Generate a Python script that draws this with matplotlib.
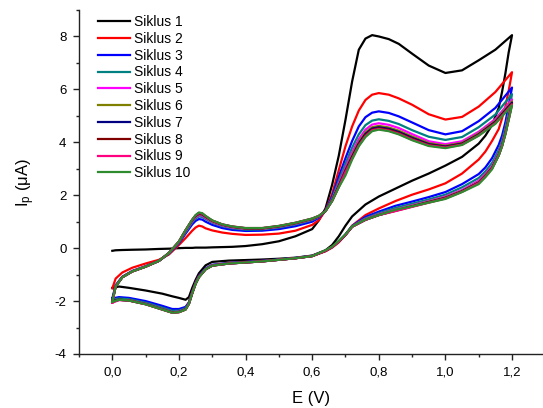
import numpy as np
import matplotlib
matplotlib.use("Agg")
import matplotlib.pyplot as plt
from matplotlib.ticker import MultipleLocator, FuncFormatter

plt.rcParams['font.family'] = ['Liberation Sans', 'DejaVu Sans']
plt.rcParams['mathtext.fontset'] = 'custom'
plt.rcParams['mathtext.rm'] = 'Liberation Sans'
plt.rcParams['mathtext.default'] = 'regular'
plt.rcParams['axes.unicode_minus'] = False

# potential grids for the anodic (forward) and cathodic (reverse) sweeps, V
E_fwd = [0.00, 0.01, 0.03, 0.06, 0.10, 0.14, 0.17, 0.20, 0.22, 0.24, 0.25, 0.26, 0.27, 0.28,
         0.30, 0.33, 0.36, 0.40, 0.45, 0.50, 0.55, 0.60, 0.62, 0.64, 0.66, 0.68, 0.70, 0.72,
         0.74, 0.76, 0.78, 0.80, 0.83, 0.86, 0.90, 0.95, 1.00, 1.05, 1.10, 1.15, 1.20]
E_rev = [1.20, 1.19, 1.18, 1.17, 1.16, 1.14, 1.12, 1.10, 1.05, 1.00, 0.95, 0.90, 0.85, 0.80,
         0.76, 0.72, 0.70, 0.68, 0.66, 0.64, 0.60, 0.55, 0.50, 0.45, 0.40, 0.35, 0.30, 0.28,
         0.26, 0.25, 0.24, 0.23, 0.22, 0.20, 0.18, 0.15, 0.10, 0.05, 0.02, 0.00]

# current (uA) on the forward sweep, one list per cycle
I_fwd_1 = [-0.10, -0.08, -0.07, -0.06, -0.05, -0.03, -0.02, 0.00, 0.01, 0.01, 0.02, 0.02, 0.02, 0.02,
           0.03, 0.04, 0.05, 0.08, 0.15, 0.26, 0.45, 0.72, 1.05, 1.50, 2.40, 3.50, 4.85, 6.30,
           7.50, 7.92, 8.05, 8.00, 7.90, 7.72, 7.35, 6.90, 6.62, 6.72, 7.10, 7.50, 8.05]
I_fwd_2 = [-1.52, -1.15, -0.92, -0.74, -0.58, -0.44, -0.24, 0.12, 0.38, 0.66, 0.78, 0.85, 0.82, 0.75,
           0.67, 0.59, 0.54, 0.50, 0.51, 0.55, 0.66, 0.88, 1.06, 1.42, 2.05, 2.95, 3.85, 4.60,
           5.20, 5.60, 5.80, 5.86, 5.80, 5.66, 5.42, 5.06, 4.86, 4.96, 5.35, 5.90, 6.65]
I_fwd_3 = [-1.90, -1.40, -1.08, -0.86, -0.68, -0.48, -0.21, 0.18, 0.55, 0.90, 1.03, 1.10, 1.08, 1.00,
           0.88, 0.76, 0.69, 0.65, 0.66, 0.72, 0.83, 1.00, 1.15, 1.42, 1.95, 2.70, 3.40, 4.05,
           4.60, 4.95, 5.12, 5.17, 5.11, 4.98, 4.75, 4.46, 4.30, 4.42, 4.80, 5.30, 6.07]
I_fwd_4 = [-1.95, -1.42, -1.09, -0.87, -0.69, -0.48, -0.20, 0.21, 0.60, 0.98, 1.12, 1.20, 1.18, 1.10,
           0.96, 0.83, 0.75, 0.70, 0.71, 0.78, 0.90, 1.06, 1.18, 1.41, 1.88, 2.55, 3.20, 3.80,
           4.30, 4.65, 4.82, 4.87, 4.81, 4.69, 4.46, 4.21, 4.09, 4.20, 4.57, 5.05, 5.82]
I_fwd_5 = [-2.05, -1.44, -1.10, -0.88, -0.70, -0.48, -0.19, 0.23, 0.64, 1.02, 1.17, 1.25, 1.23, 1.14,
           0.99, 0.86, 0.78, 0.73, 0.73, 0.81, 0.93, 1.09, 1.20, 1.40, 1.83, 2.45, 3.05, 3.62,
           4.12, 4.48, 4.67, 4.72, 4.66, 4.54, 4.31, 4.04, 3.93, 4.04, 4.40, 4.88, 5.62]
I_fwd_6 = [-2.02, -1.44, -1.10, -0.88, -0.70, -0.48, -0.19, 0.24, 0.66, 1.05, 1.20, 1.28, 1.26, 1.17,
           1.01, 0.88, 0.80, 0.74, 0.74, 0.82, 0.94, 1.10, 1.21, 1.40, 1.81, 2.40, 2.98, 3.52,
           4.02, 4.38, 4.57, 4.62, 4.56, 4.44, 4.22, 3.97, 3.87, 3.98, 4.34, 4.82, 5.55]
I_fwd_7 = [-2.00, -1.45, -1.10, -0.88, -0.70, -0.48, -0.18, 0.24, 0.67, 1.06, 1.22, 1.30, 1.28, 1.19,
           1.03, 0.89, 0.81, 0.75, 0.75, 0.83, 0.95, 1.11, 1.21, 1.40, 1.80, 2.36, 2.94, 3.46,
           3.96, 4.32, 4.52, 4.57, 4.51, 4.39, 4.17, 3.93, 3.84, 3.95, 4.30, 4.78, 5.50]
I_fwd_8 = [-2.02, -1.45, -1.10, -0.88, -0.70, -0.48, -0.18, 0.25, 0.68, 1.07, 1.23, 1.32, 1.30, 1.20,
           1.04, 0.89, 0.81, 0.75, 0.75, 0.83, 0.95, 1.11, 1.21, 1.40, 1.79, 2.33, 2.90, 3.42,
           3.92, 4.27, 4.48, 4.53, 4.47, 4.35, 4.13, 3.90, 3.82, 3.93, 4.28, 4.75, 5.46]
I_fwd_9 = [-2.06, -1.45, -1.10, -0.88, -0.70, -0.48, -0.18, 0.25, 0.68, 1.08, 1.24, 1.33, 1.31, 1.21,
           1.04, 0.90, 0.82, 0.76, 0.76, 0.84, 0.96, 1.12, 1.22, 1.40, 1.78, 2.31, 2.87, 3.38,
           3.88, 4.23, 4.45, 4.50, 4.44, 4.32, 4.10, 3.88, 3.80, 3.91, 4.26, 4.72, 5.43]
I_fwd_10 = [-2.03, -1.45, -1.10, -0.88, -0.70, -0.48, -0.18, 0.25, 0.68, 1.08, 1.25, 1.35, 1.32, 1.22,
            1.05, 0.90, 0.82, 0.76, 0.76, 0.84, 0.96, 1.12, 1.22, 1.40, 1.78, 2.30, 2.75, 3.35,
            3.85, 4.20, 4.42, 4.48, 4.42, 4.30, 4.08, 3.86, 3.78, 3.90, 4.25, 4.70, 5.40]

# current (uA) on the reverse sweep
I_rev_1 = [8.05, 7.40, 6.60, 5.90, 5.30, 4.65, 4.25, 3.95, 3.45, 3.12, 2.82, 2.55, 2.25, 1.95,
           1.65, 1.20, 0.85, 0.45, 0.12, -0.08, -0.28, -0.36, -0.40, -0.43, -0.45, -0.47, -0.52, -0.65,
           -0.95, -1.20, -1.50, -1.85, -1.95, -1.88, -1.82, -1.72, -1.60, -1.50, -1.45, -1.50]
I_rev_2 = [6.65, 5.95, 5.35, 4.90, 4.50, 4.05, 3.65, 3.35, 2.82, 2.45, 2.22, 2.02, 1.78, 1.50,
           1.25, 0.85, 0.50, 0.22, 0.02, -0.12, -0.30, -0.38, -0.44, -0.48, -0.52, -0.56, -0.64, -0.78,
           -1.05, -1.30, -1.65, -2.05, -2.25, -2.36, -2.38, -2.25, -2.05, -1.90, -1.88, -2.05]
I_rev_3 = [6.07, 5.40, 4.75, 4.25, 3.90, 3.40, 3.05, 2.80, 2.42, 2.12, 1.93, 1.76, 1.60, 1.38,
           1.18, 0.84, 0.52, 0.25, 0.04, -0.10, -0.29, -0.37, -0.43, -0.48, -0.52, -0.56, -0.63, -0.76,
           -1.05, -1.30, -1.65, -2.05, -2.22, -2.30, -2.30, -2.18, -2.00, -1.88, -1.85, -1.90]
I_rev_4 = [5.82, 5.15, 4.55, 4.05, 3.72, 3.22, 2.90, 2.65, 2.30, 2.02, 1.84, 1.68, 1.52, 1.32,
           1.13, 0.83, 0.51, 0.25, 0.04, -0.10, -0.29, -0.37, -0.43, -0.49, -0.53, -0.57, -0.64, -0.78,
           -1.07, -1.32, -1.68, -2.08, -2.27, -2.36, -2.37, -2.25, -2.06, -1.93, -1.90, -1.95]
I_rev_5 = [5.62, 5.00, 4.42, 3.95, 3.60, 3.10, 2.80, 2.55, 2.20, 1.95, 1.78, 1.62, 1.46, 1.28,
           1.10, 0.82, 0.50, 0.25, 0.04, -0.10, -0.30, -0.38, -0.44, -0.50, -0.54, -0.58, -0.65, -0.79,
           -1.08, -1.33, -1.69, -2.09, -2.30, -2.40, -2.42, -2.30, -2.10, -1.97, -1.96, -2.05]
I_rev_6 = [5.55, 4.95, 4.38, 3.90, 3.55, 3.06, 2.76, 2.50, 2.17, 1.92, 1.76, 1.60, 1.44, 1.26,
           1.08, 0.81, 0.50, 0.25, 0.04, -0.10, -0.30, -0.38, -0.44, -0.50, -0.54, -0.58, -0.66, -0.80,
           -1.09, -1.34, -1.70, -2.10, -2.31, -2.41, -2.43, -2.31, -2.11, -1.97, -1.95, -2.02]
I_rev_7 = [5.50, 4.90, 4.34, 3.87, 3.52, 3.03, 2.73, 2.48, 2.15, 1.90, 1.74, 1.58, 1.42, 1.25,
           1.07, 0.81, 0.50, 0.25, 0.05, -0.10, -0.30, -0.38, -0.44, -0.50, -0.54, -0.58, -0.66, -0.80,
           -1.09, -1.34, -1.70, -2.10, -2.31, -2.41, -2.43, -2.31, -2.11, -1.98, -1.95, -2.00]
I_rev_8 = [5.46, 4.88, 4.32, 3.86, 3.51, 3.02, 2.72, 2.47, 2.14, 1.89, 1.73, 1.57, 1.41, 1.25,
           1.07, 0.81, 0.50, 0.25, 0.05, -0.10, -0.30, -0.38, -0.44, -0.50, -0.54, -0.58, -0.66, -0.80,
           -1.10, -1.35, -1.70, -2.10, -2.32, -2.42, -2.44, -2.32, -2.12, -1.98, -1.95, -2.02]
I_rev_9 = [5.43, 4.86, 4.31, 3.85, 3.50, 3.01, 2.71, 2.46, 2.13, 1.88, 1.72, 1.56, 1.40, 1.25,
           1.07, 0.81, 0.50, 0.25, 0.05, -0.10, -0.30, -0.38, -0.44, -0.50, -0.54, -0.58, -0.66, -0.80,
           -1.10, -1.35, -1.70, -2.10, -2.32, -2.42, -2.44, -2.32, -2.12, -1.98, -1.96, -2.06]
I_rev_10 = [5.40, 4.85, 4.30, 3.85, 3.50, 2.98, 2.68, 2.42, 2.12, 1.86, 1.72, 1.58, 1.45, 1.25,
            1.08, 0.82, 0.52, 0.28, 0.06, -0.08, -0.30, -0.38, -0.44, -0.50, -0.54, -0.58, -0.66, -0.80,
            -1.10, -1.35, -1.70, -2.10, -2.32, -2.42, -2.44, -2.32, -2.12, -1.98, -1.95, -2.03]

labels = ['Siklus %d' % i for i in range(1, 11)]
colors = ['#000000', '#FF0000', '#0000FF', '#008080', '#FF00FF',
          '#808000', '#000080', '#800000', '#FF0080', '#2E8B2E']
fwd = [I_fwd_1, I_fwd_2, I_fwd_3, I_fwd_4, I_fwd_5, I_fwd_6, I_fwd_7, I_fwd_8, I_fwd_9, I_fwd_10]
rev = [I_rev_1, I_rev_2, I_rev_3, I_rev_4, I_rev_5, I_rev_6, I_rev_7, I_rev_8, I_rev_9, I_rev_10]

fig = plt.figure(figsize=(5.43, 4.08), dpi=100)
ax = fig.add_axes([79/543, 54/408, 464/543, 344/408])

# each cycle: forward sweep then reverse sweep as one trace
for lab, c, f, r in zip(labels, colors, fwd, rev):
    E = np.concatenate([E_fwd, E_rev])
    I = np.concatenate([f, r])
    ax.plot(E, I, color=c, lw=1.6, label=lab, solid_joinstyle='round')

ax.set_xlim(-0.1, 1.293)
ax.set_ylim(-4, 9)
ax.xaxis.set_major_locator(MultipleLocator(0.2))
ax.xaxis.set_minor_locator(MultipleLocator(0.1))
ax.yaxis.set_major_locator(MultipleLocator(2))
ax.yaxis.set_minor_locator(MultipleLocator(1))
ax.xaxis.set_major_formatter(FuncFormatter(lambda v, p: ('%.1f' % v).replace('.', ',')))
ax.yaxis.set_major_formatter(FuncFormatter(lambda v, p: '%d' % round(v)))

for s in ['top', 'right']:
    ax.spines[s].set_visible(False)
for s in ['left', 'bottom']:
    ax.spines[s].set_linewidth(1.0)
    ax.spines[s].set_color('#222222')
ax.tick_params(which='major', direction='out', length=4, width=1.0, labelsize=9.5,
               pad=5, color='#222222')
ax.tick_params(which='minor', direction='out', length=2.5, width=1.0, color='#222222')

ax.set_xlabel('E (V)', fontsize=12, labelpad=9)
ax.set_ylabel('I$_{p}$ (μA)', fontsize=12, labelpad=13)

ax.legend(loc='upper left', bbox_to_anchor=(0.04, 0.985), frameon=False, fontsize=10,
          handlelength=2.35, handletextpad=0.25, labelspacing=0.2, borderpad=0,
          borderaxespad=0)

fig.savefig('out.png', dpi=100)
